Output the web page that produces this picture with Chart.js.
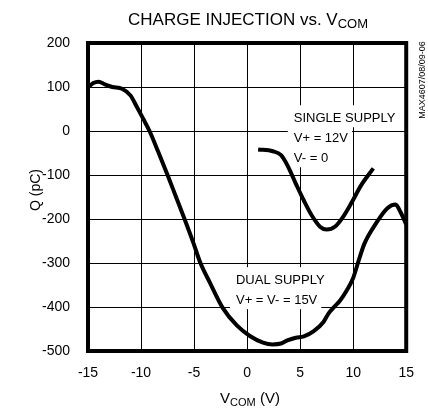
<!DOCTYPE html>
<html>
<head>
<meta charset="utf-8">
<script src="https://cdn.jsdelivr.net/npm/chart.js@4.4.1/dist/chart.umd.min.js"></script>
<style>
  html, body { margin: 0; padding: 0; background: #fff; }
  canvas { display: block; }
</style>
</head>
<body>
<canvas id="c" width="428" height="413"></canvas>
<script>
// values
var xTicks = [-15, -10, -5, 0, 5, 10, 15];
var yTicks = [200, 100, 0, -100, -200, -300, -400, -500];

var dualV = [-15, -14.5, -14.0, -13.4, -12.7, -11.8, -11.0, -10.4, -9.8, -9.2, -8.4, -7.5, -6.7, -5.9, -5.1, -4.4, -3.5, -2.3, -0.97, 0.26, 1.5, 2.4, 3.2, 3.8, 4.6, 5.35, 6.28, 7.2, 7.67, 8.13, 8.75, 9.4, 10.0, 10.5, 11.06, 12.15, 13.2, 14.0, 14.46, 14.9, 15];
var dualQ = [99, 109, 112, 106, 100, 96, 81, 55, 28, 0, -46, -100, -150, -200, -252, -300, -345, -402, -442, -466, -481, -485, -483, -476, -470, -467, -455, -434, -415, -402, -386, -362, -334, -296, -256, -210, -176, -167, -184, -207, -212];

var singleV = [1.04, 2.43, 3.2, 3.8, 4.6, 5.35, 6.1, 6.9, 7.5, 8.3, 9.05, 9.8, 10.76, 11.9];
var singleQ = [-42, -46, -55, -78, -120, -158, -192, -218, -224, -217, -195, -165, -123, -85];

var FONT = '"Liberation Sans Narrow", "Liberation Sans", Arial, sans-serif';

function pts(xs, ys) {
  return xs.map(function (x, i) { return { x: x, y: ys[i] }; });
}

var labels = [
  { x: 4.4, y: 29, lines: ["SINGLE SUPPLY", "V+ = 12V", "V- = 0"] },
  { x: -1.05, y: -339, lines: ["DUAL SUPPLY", "V+ = V- = 15V"] }
];

var extras = {
  id: "extras",
  beforeDatasetsDraw: function (chart) {
    var ctx = chart.ctx, sx = chart.scales.x, sy = chart.scales.y;
    ctx.save();
    ctx.font = "13px " + FONT;
    ctx.fillStyle = "#fff";
    labels.forEach(function (lb) {
      var px = sx.getPixelForValue(lb.x), py = sy.getPixelForValue(lb.y);
      lb.lines.forEach(function (t, i) {
        var w = ctx.measureText(t).width;
        ctx.fillRect(px - 6, py + i * 20 - 13, w + 10, 22);
      });
    });
    ctx.restore();
  },
  afterDatasetsDraw: function (chart) {
    var ctx = chart.ctx, a = chart.chartArea, sx = chart.scales.x, sy = chart.scales.y;
    ctx.save();
    ctx.fillStyle = "#000";
    ctx.strokeStyle = "#000";
    ctx.lineWidth = 4;
    ctx.strokeRect(a.left, a.top, a.right - a.left, a.bottom - a.top);

    ctx.font = "13px " + FONT;
    ctx.textBaseline = "middle";
    ctx.textAlign = "left";
    labels.forEach(function (lb) {
      var px = sx.getPixelForValue(lb.x), py = sy.getPixelForValue(lb.y);
      lb.lines.forEach(function (t, i) {
        ctx.fillText(t, px, py + i * 20);
      });
    });

    // title with subscript
    ctx.font = "17px " + FONT;
    var t1 = "CHARGE INJECTION vs. V";
    var w1 = ctx.measureText(t1).width;
    ctx.font = "13px " + FONT;
    var w2 = ctx.measureText("COM").width;
    var tx = 248 - (w1 + w2) / 2;
    ctx.font = "17px " + FONT;
    ctx.fillText(t1, tx, 20);
    ctx.font = "13px " + FONT;
    ctx.fillText("COM", tx + w1, 24);

    // x axis title
    ctx.font = "15px " + FONT;
    var wv = ctx.measureText("V").width;
    ctx.font = "11px " + FONT;
    var wc = ctx.measureText("COM").width;
    ctx.font = "15px " + FONT;
    var wr = ctx.measureText(" (V)").width;
    var xx = 250 - (wv + wc + wr) / 2;
    ctx.fillText("V", xx, 399);
    ctx.font = "11px " + FONT;
    ctx.fillText("COM", xx + wv, 403);
    ctx.font = "15px " + FONT;
    ctx.fillText(" (V)", xx + wv + wc, 399);

    // y axis title
    ctx.save();
    ctx.translate(36, 190);
    ctx.rotate(-Math.PI / 2);
    ctx.textAlign = "center";
    ctx.font = "14px " + FONT;
    ctx.fillText("Q (pC)", 0, 0);
    ctx.restore();

    // side code
    ctx.save();
    ctx.translate(423, 80);
    ctx.rotate(-Math.PI / 2);
    ctx.textAlign = "center";
    ctx.font = "9px " + FONT;
    ctx.fillText("MAX4607/08/09-06", 0, 0);
    ctx.restore();

    ctx.restore();
  }
};

new Chart(document.getElementById("c"), {
  type: "scatter",
  data: {
    datasets: [
      { data: pts(dualV, dualQ), showLine: true, borderColor: "#000", borderWidth: 4, pointRadius: 0, cubicInterpolationMode: "monotone" },
      { data: pts(singleV, singleQ), showLine: true, borderColor: "#000", borderWidth: 4, pointRadius: 0, cubicInterpolationMode: "monotone" }
    ]
  },
  options: {
    responsive: false,
    animation: false,
    events: [],
    layout: { padding: { top: 43, right: 15, left: 0, bottom: 0 } },
    plugins: { legend: { display: false }, tooltip: { enabled: false } },
    scales: {
      x: {
        type: "linear",
        min: xTicks[0],
        max: xTicks[xTicks.length - 1],
        afterBuildTicks: function (s) { s.ticks = xTicks.map(function (v) { return { value: v }; }); },
        afterFit: function (s) { s.height = 62; },
        border: { display: false },
        grid: { color: "#000", lineWidth: 1, drawTicks: false },
        ticks: { color: "#000", padding: 14, font: { family: FONT, size: 14 }, maxRotation: 0 }
      },
      y: {
        min: yTicks[yTicks.length - 1],
        max: yTicks[0],
        afterBuildTicks: function (s) { s.ticks = yTicks.map(function (v) { return { value: v }; }); },
        afterFit: function (s) { s.width = 88; },
        border: { display: false },
        grid: { color: "#000", lineWidth: 1, drawTicks: false },
        ticks: { color: "#000", padding: 18, font: { family: FONT, size: 14 } }
      }
    }
  },
  plugins: [extras]
});
</script>
</body>
</html>
